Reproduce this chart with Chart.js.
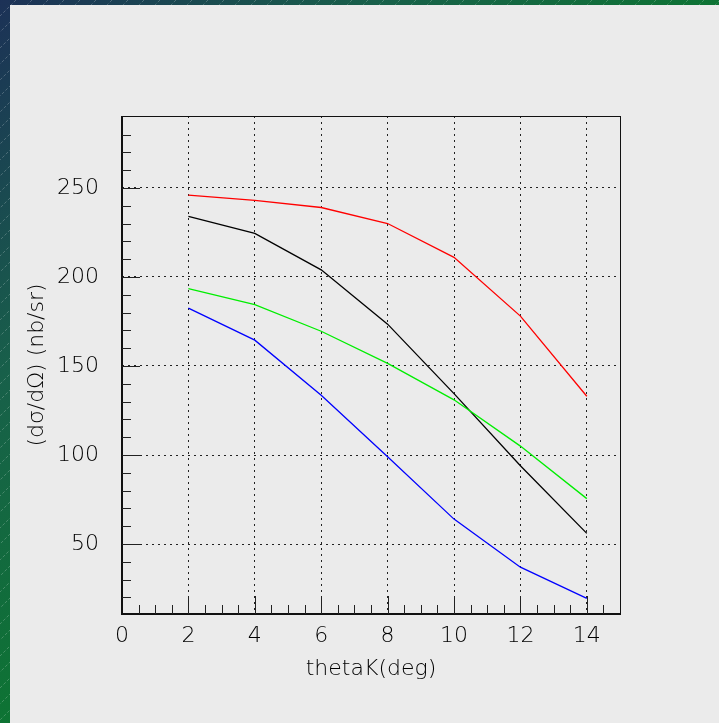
<!DOCTYPE html>
<html>
<head>
<meta charset="utf-8">
<script src="https://cdn.jsdelivr.net/npm/chart.js@4"></script>
<style>
  html, body { margin: 0; padding: 0; background: #ebebeb; }
  canvas { display: block; }
</style>
</head>
<body>
<canvas id="xsecChart" width="719" height="723"></canvas>
<script>
// kaon angle (deg) and cross sections (nb/sr)
const thetaK = [2, 4, 6, 8, 10, 12, 14];
const redSeries = [246, 243, 239, 230, 211, 178, 133];
const blackSeries = [234, 224.5, 204, 173.5, 134.5, 94, 56];
const greenSeries = [193.5, 184.5, 169.5, 151.5, 131, 105, 75.5];
const blueSeries = [182.5, 164.5, 133.5, 99, 64, 37, 19.5];

const xTickLabels = [0, 2, 4, 6, 8, 10, 12, 14];
const yTickLabels = [50, 100, 150, 200, 250];

const FONT = { family: "'DejaVu Sans', sans-serif", size: 22, weight: 200 };
const TEXT_COLOR = '#000';

function toPoints(ys) {
  return thetaK.map((x, i) => ({ x, y: ys[i] }));
}

function lineSet(label, ys, color) {
  return {
    label,
    data: toPoints(ys),
    borderColor: color,
    backgroundColor: color,
    borderWidth: 1.3,
    pointRadius: 0,
    tension: 0,
    fill: false
  };
}

// canvas backdrop: gradient strip with faint hatching, light panel on top
const backdrop = {
  id: 'backdrop',
  beforeDraw(chart) {
    const { ctx, width, height } = chart;
    ctx.save();
    const g = ctx.createLinearGradient(0, 0, 420, 420);
    g.addColorStop(0, '#1c3157');
    g.addColorStop(0.45, '#18604a');
    g.addColorStop(1, '#0a7a2c');
    ctx.fillStyle = g;
    ctx.fillRect(0, 0, width, height);

    ctx.strokeStyle = 'rgba(255,255,255,0.22)';
    ctx.lineWidth = 1;
    ctx.setLineDash([3, 2]);
    for (let c = 0; c < width + height; c += 16) {
      ctx.beginPath();
      ctx.moveTo(c, 0);
      ctx.lineTo(c - height, height);
      ctx.stroke();
    }
    ctx.setLineDash([]);

    ctx.fillStyle = '#ebebeb';
    ctx.fillRect(10, 5, width - 10, height - 5);
    ctx.restore();
  }
};

// frame box and inward tick marks
const frameTicks = {
  id: 'frameTicks',
  afterDraw(chart) {
    const { ctx, chartArea: a, scales: { x, y } } = chart;
    ctx.save();
    ctx.strokeStyle = '#111';
    ctx.lineWidth = 1;
    ctx.strokeRect(a.left + 0.5, a.top + 0.5, a.right - a.left, a.bottom - a.top);

    ctx.lineWidth = 2;
    ctx.beginPath();
    ctx.moveTo(a.left, a.top);
    ctx.lineTo(a.left, a.bottom);
    ctx.lineTo(a.right, a.bottom);
    ctx.stroke();

    ctx.lineWidth = 1;
    ctx.strokeStyle = '#222';
    ctx.beginPath();
    for (let v = Math.ceil(y.min / 10) * 10; v < y.max - 2; v += 10) {
      const py = Math.round(y.getPixelForValue(v)) + 0.5;
      const len = v % 50 === 0 ? 18 : 9;
      ctx.moveTo(a.left, py);
      ctx.lineTo(a.left + len, py);
    }
    for (let v = 0.5; v < x.max; v += 0.5) {
      const px = Math.round(x.getPixelForValue(v)) + 0.5;
      const len = v % 2 === 0 ? 18 : 9;
      ctx.moveTo(px, a.bottom);
      ctx.lineTo(px, a.bottom - len);
    }
    ctx.stroke();
    ctx.restore();
  }
};

const dotted = {
  color: '#222',
  lineWidth: 1,
  drawTicks: false
};

new Chart(document.getElementById('xsecChart'), {
  type: 'line',
  data: {
    datasets: [
      lineSet('red', redSeries, '#ff0000'),
      lineSet('green', greenSeries, '#00ee00'),
      lineSet('black', blackSeries, '#000000'),
      lineSet('blue', blueSeries, '#0000ff')
    ]
  },
  options: {
    responsive: false,
    animation: false,
    devicePixelRatio: 1,
    layout: { padding: { left: 12, right: 99, top: 116, bottom: 10 } },
    plugins: {
      legend: { display: false },
      tooltip: { enabled: false }
    },
    scales: {
      x: {
        type: 'linear',
        min: 0,
        max: 15,
        afterBuildTicks: s => { s.ticks = xTickLabels.map(v => ({ value: v })); },
        afterFit: s => { s.height = 99; },
        grid: dotted,
        border: { display: false, dash: [2, 4] },
        ticks: { font: FONT, color: TEXT_COLOR, padding: 9, maxRotation: 0 },
        title: {
          display: true,
          text: 'thetaK(deg)',
          font: FONT,
          color: TEXT_COLOR,
          padding: { top: 0, bottom: 31 }
        }
      },
      y: {
        type: 'linear',
        min: 10.7,
        max: 290.4,
        afterBuildTicks: s => { s.ticks = yTickLabels.map(v => ({ value: v })); },
        afterFit: s => { s.width = 110; },
        grid: dotted,
        border: { display: false, dash: [2, 4] },
        ticks: { font: FONT, color: TEXT_COLOR, padding: 23 },
        title: {
          display: true,
          text: '(dσ/dΩ) (nb/sr)',
          font: FONT,
          color: TEXT_COLOR,
          padding: { top: 12, bottom: 0 }
        }
      }
    }
  },
  plugins: [backdrop, frameTicks]
});
</script>
</body>
</html>
